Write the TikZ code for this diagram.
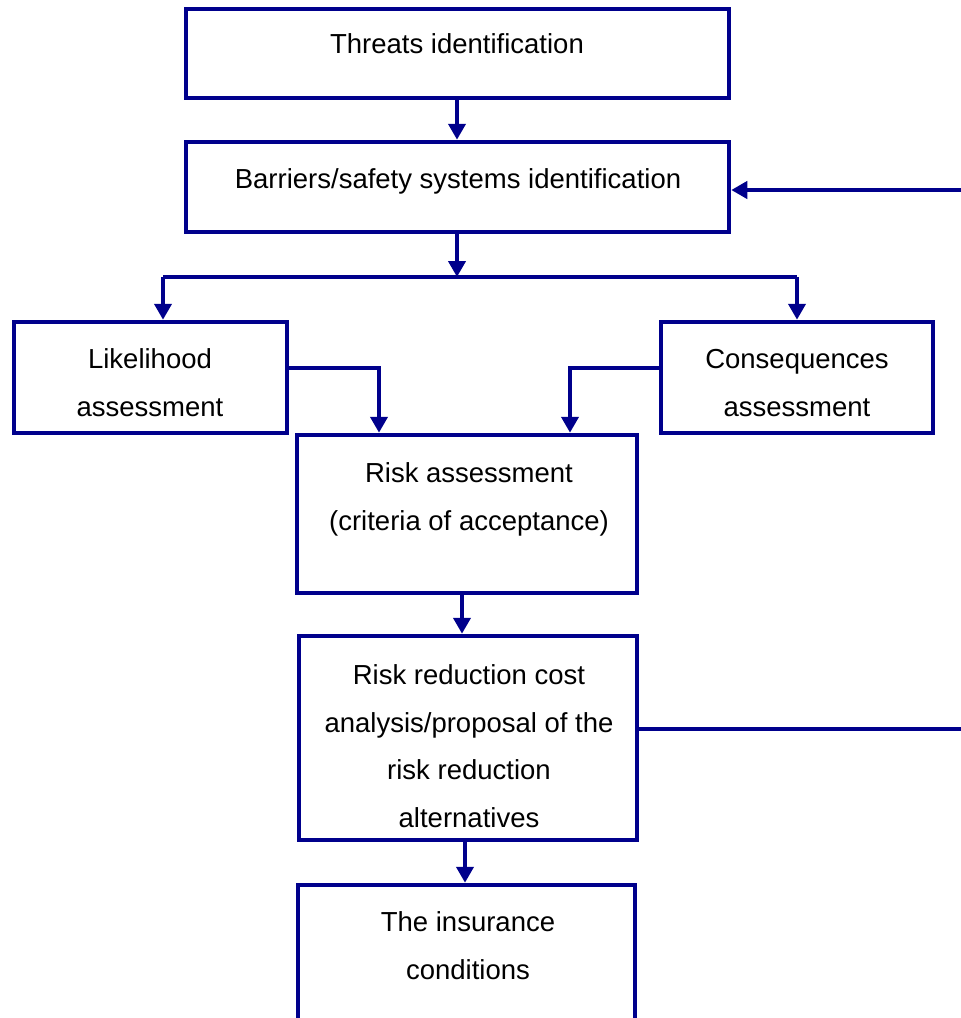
\documentclass[tikz,border=0pt]{standalone}
\usepackage{fontspec}
\setmainfont{Liberation Sans}
\usetikzlibrary{arrows.meta}
\definecolor{navyline}{RGB}{0,0,140}
\tikzset{
  box/.style={draw=navyline, line width=4.5pt, inner sep=0pt, fill=none},
  lbl/.style={anchor=base, align=center, inner sep=0pt, text=black,
              font=\fontsize{27.5}{47.5}\selectfont},
  conn/.style={draw=navyline, line width=4.5pt},
  arr/.style={conn, -{Triangle[width=17pt,length=16pt]}}
}
\begin{document}
\begin{tikzpicture}[x=1pt,y=-1pt]
\useasboundingbox (0,0) rectangle (961,1018);
\clip (0,0) rectangle (961,1018);
% boxes
\node[box, minimum width=543pt, minimum height=89pt] (threats) at (457.5,53.5) {};
\node[box, minimum width=543pt, minimum height=90pt] (barriers) at (457.5,187) {};
\node[box, minimum width=273pt, minimum height=111pt] (likely) at (150.5,377.5) {};
\node[box, minimum width=272pt, minimum height=111pt] (conseq) at (797,377.5) {};
\node[box, minimum width=340pt, minimum height=158pt] (risk) at (467,514) {};
\node[box, minimum width=338pt, minimum height=204pt] (reduct) at (468,738) {};
\node[box, minimum width=337pt, minimum height=150pt] (insur) at (466.5,960) {};
% texts (anchor = baseline of last line)
\node[lbl] (t1) at (457,53) {Threats identification};
\node[lbl] (t2) at (458,188) {Barriers/safety systems identification};
\node[lbl] (t3) at (150,416) {Likelihood\\assessment};
\node[lbl] (t4) at (797,416) {Consequences\\assessment};
\node[lbl] (t5) at (469,530) {Risk assessment\\(criteria of acceptance)};
\node[lbl] (t6) at (469,827) {Risk reduction cost\\analysis/proposal of the\\risk reduction\\alternatives};
\node[lbl] (t7) at (468,979) {The insurance\\conditions};
% coordinates
\coordinate (split) at (457,277);
\coordinate (feedR1) at (975,729);
\coordinate (feedR2) at (975,190);
% connectors
\draw[arr] (threats.south -| 457,0) -- (barriers.north -| 457,0);
\draw[arr] (barriers.south -| split) -- (split);
\draw[conn] (163,277) -- (797,277);
\draw[arr] (163,277) -- (likely.north -| 163,0);
\draw[arr] (797,277) -- (conseq.north -| 797,0);
\draw[arr] (likely.east |- 0,368) -| (risk.north -| 379,0);
\draw[arr] (conseq.west |- 0,368) -| (risk.north -| 570,0);
\draw[arr] (risk.south -| 462,0) -- (reduct.north -| 462,0);
\draw[arr] (reduct.south -| 465,0) -- (insur.north -| 465,0);
\draw[conn] (reduct.east |- feedR1) -- (feedR1);
\draw[arr] (feedR2) -- (barriers.east |- feedR2);
\end{tikzpicture}
\end{document}
